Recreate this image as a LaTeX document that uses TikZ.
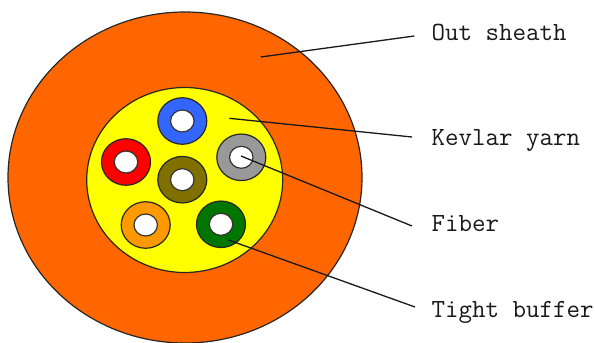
\documentclass[tikz,border=0pt]{standalone}
\usepackage{fontspec}
\usetikzlibrary{shapes.geometric}
\definecolor{csheath}{RGB}{255,102,0}
\definecolor{cyellow}{RGB}{255,255,0}
\definecolor{cblue}{RGB}{51,102,255}
\definecolor{cred}{RGB}{255,0,0}
\definecolor{colive}{RGB}{128,112,0}
\definecolor{cgray}{RGB}{153,153,153}
\definecolor{corange}{RGB}{255,153,0}
\definecolor{cgreen}{RGB}{0,118,0}
\tikzset{
  x=1pt,y=-1pt,
  ring/.style={draw=black!85,line width=1.2pt,shape=ellipse,inner sep=0pt,outer sep=0pt,minimum width=49pt,minimum height=46.5pt,fill=#1},
  hole/.style={draw=black!80,line width=1.2pt,shape=ellipse,inner sep=0pt,outer sep=0pt,minimum width=23.5pt,minimum height=22pt,fill=white},
  lead/.style={draw=black!90,line width=1.3pt},
  lab/.style={anchor=base west,inner sep=0pt,font=\ttfamily\fontsize{26.2}{28}\selectfont\addfontfeature{FakeBold=0.5},text=black!90}
}
\begin{document}
\begin{tikzpicture}
\useasboundingbox (0,0) rectangle (595,343);
\clip (0,0) rectangle (595,343);
\node[shape=ellipse,draw=black!85,line width=1.2pt,fill=csheath,inner sep=0pt,outer sep=0pt,minimum width=354pt,minimum height=331pt] (sheath) at (185,177.5) {};
\node[shape=ellipse,draw=black!85,line width=1.2pt,fill=cyellow,inner sep=0pt,outer sep=0pt,minimum width=196pt,minimum height=185pt] (kevlar) at (184.7,180) {};
\node[ring=cblue] (r1) at (182.3,121) {};
\node[ring=cred] (r2) at (126,162) {};
\node[ring=colive] (r3) at (182.3,179.7) {};
\node[ring=cgray] (r4) at (241.3,157.3) {};
\node[ring=corange] (r5) at (145.7,225) {};
\node[ring=cgreen] (r6) at (221,224.3) {};
\node[hole] (h1) at (r1) {};
\node[hole] (h2) at (r2) {};
\node[hole] (h3) at (r3) {};
\node[hole] (h4) at (r4) {};
\node[hole] (h5) at (r5) {};
\node[hole] (h6) at (r6) {};
\node[lab] (t1) at (431.5,40.5) {Out sheath};
\node[lab] (t2) at (431.5,145) {Kevlar yarn};
\node[lab] (t3) at (431.5,231) {Fiber};
\node[lab] (t4) at (431.5,317) {Tight buffer};
\coordinate (a1) at (260.7,57);
\coordinate (b1) at (414.3,36);
\coordinate (a2) at (229.3,118.3);
\coordinate (b2) at (412,137);
\coordinate (a3) at (241,156);
\coordinate (b3) at (412,226);
\coordinate (a4) at (228.5,240);
\coordinate (b4) at (415,307);
\draw[lead] (a1) -- (b1);
\draw[lead] (a2) -- (b2);
\draw[lead] (a3) -- (b3);
\draw[lead] (a4) -- (b4);
\end{tikzpicture}
\end{document}
